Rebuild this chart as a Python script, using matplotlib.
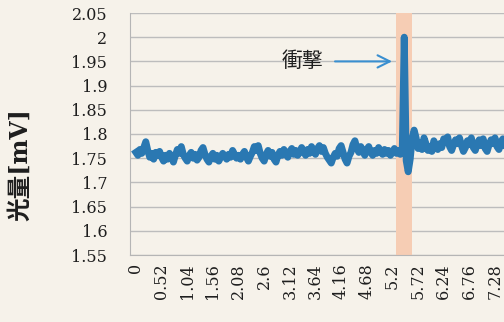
import numpy as np
import matplotlib.pyplot as plt

# light output [mV], sampled every 0.04 s
step = 0.04
light = [
    1.762, 1.756, 1.768, 1.760, 1.772, 1.784, 1.766, 1.752, 1.760, 1.748, 1.762, 1.756, 1.764,
    1.752, 1.744, 1.756, 1.748, 1.760, 1.752, 1.742, 1.756, 1.768, 1.760, 1.774, 1.758, 1.750,
    1.744, 1.756, 1.762, 1.750, 1.758, 1.746, 1.752, 1.766, 1.772, 1.758, 1.748, 1.742, 1.754,
    1.760, 1.748, 1.756, 1.744, 1.752, 1.760, 1.754, 1.748, 1.758, 1.752, 1.766, 1.758, 1.750,
    1.756, 1.748, 1.758, 1.764, 1.752, 1.744, 1.754, 1.762, 1.774, 1.766, 1.776, 1.760, 1.750,
    1.744, 1.758, 1.766, 1.754, 1.762, 1.748, 1.742, 1.756, 1.764, 1.756, 1.768, 1.760, 1.752,
    1.764, 1.770, 1.758, 1.766, 1.756, 1.762, 1.772, 1.764, 1.756, 1.768, 1.760, 1.774, 1.766,
    1.758, 1.770, 1.776, 1.764, 1.772, 1.760, 1.752, 1.746, 1.740, 1.752, 1.760, 1.754, 1.770,
    1.776, 1.762, 1.748, 1.740, 1.754, 1.762, 1.778, 1.786, 1.770, 1.762, 1.774, 1.764, 1.756,
    1.768, 1.774, 1.762, 1.756, 1.766, 1.760, 1.772, 1.764, 1.758, 1.768, 1.760, 1.766, 1.756,
    1.762, 1.770, 1.760, 1.766, 1.758, 1.764, 2.000, 1.745, 1.722, 1.748, 1.790, 1.808, 1.792,
    1.770, 1.782, 1.768, 1.792, 1.780, 1.766, 1.774, 1.764, 1.786, 1.776, 1.768, 1.780, 1.772,
    1.790, 1.782, 1.794, 1.774, 1.766, 1.778, 1.788, 1.780, 1.792, 1.776, 1.764, 1.772, 1.786,
    1.778, 1.792, 1.772, 1.766, 1.780, 1.788, 1.776, 1.790, 1.770, 1.764, 1.778, 1.788, 1.780,
    1.792, 1.774, 1.768, 1.784, 1.790, 1.778, 1.770, 1.782, 1.776, 1.788, 1.790, 1.778, 1.772,
]
t = np.arange(len(light)) * step

impact_start, impact_end = 5.28, 5.60
x_labels = [round(k * 0.52, 2) for k in range(15)]
y_ticks = [1.55, 1.6, 1.65, 1.7, 1.75, 1.8, 1.85, 1.9, 1.95, 2.0, 2.05]

bg = '#f6f2ea'
fig = plt.figure(figsize=(5.04, 3.22), dpi=100, facecolor=bg)
# plot area runs a little past the right edge of the figure
ax = fig.add_axes([129.5 / 504, 1 - 255 / 322, 403 / 504, 242 / 322], facecolor=bg)

ax.axvspan(impact_start, impact_end, color='#f6cdb4', lw=0, zorder=1)
ax.plot(t, light, color='#2a78b2', lw=5, solid_joinstyle='round', zorder=3)

ax.set_ylim(1.55, 2.05)
ax.set_xlim(-0.13, 8.04)
ax.set_yticks(y_ticks)
ax.set_yticklabels(['{:g}'.format(v) for v in y_ticks])
ax.set_xticks(x_labels)
ax.set_xticklabels(['{:g}'.format(v) for v in x_labels], rotation=90, va='top')
ax.grid(axis='y', color='#bdbdbd', lw=1)
ax.set_axisbelow(True)
for s in ['top', 'right']:
    ax.spines[s].set_visible(False)
for s in ['left', 'bottom']:
    ax.spines[s].set_color('#b5b5b5')
ax.tick_params(axis='y', length=0, pad=16, labelsize=11.5)
ax.tick_params(axis='x', length=0, pad=6, labelsize=11.5)
for lab in ax.get_xticklabels() + ax.get_yticklabels():
    lab.set_fontfamily('DejaVu Serif')
    lab.set_color('#1e1e1e')

ax.annotate('', xy=(5.25, 1.95), xytext=(3.98, 1.95),
            arrowprops=dict(arrowstyle='->', color='#3a8fd0', lw=1.5,
                            mutation_scale=22), zorder=4)
ax.text(3.8, 1.95, '衝撃', ha='right', va='center', fontsize=15,
        family=['Noto Sans CJK JP', 'DejaVu Sans'], color='#1e1e1e', zorder=4)

fig.text(20 / 504, 1 - 165 / 322, '光量[mV]', rotation=90, ha='center', va='center',
         fontsize=17, fontweight='bold', family=['DejaVu Serif', 'Noto Sans CJK JP'],
         color='#1e1e1e')

fig.savefig('out.png', dpi=100, facecolor=bg)
